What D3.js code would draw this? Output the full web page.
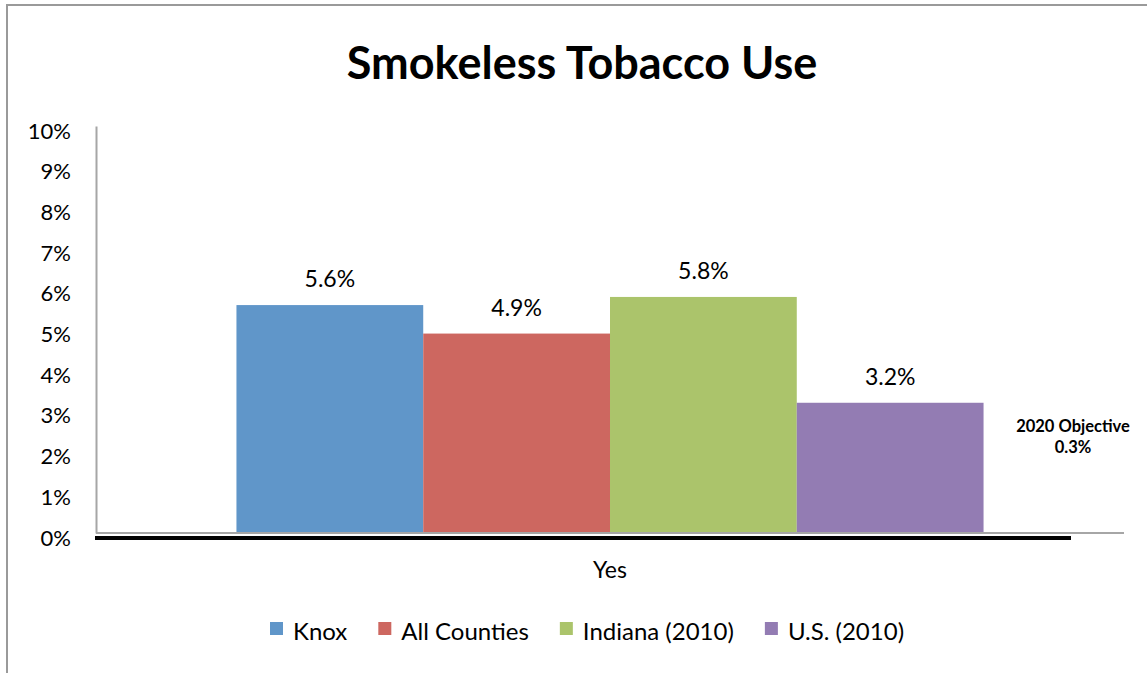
<!DOCTYPE html>
<html><head><meta charset="utf-8">
<script src="https://cdn.jsdelivr.net/npm/d3@7"></script>
<style>body{margin:0;background:#fff}svg{display:block;font-family:Lato, "Liberation Sans", sans-serif}</style>
</head><body>
<svg id="c" width="1147" height="673"></svg>
<script>
const groups = ["Yes"];
const categories = ["Knox", "All Counties", "Indiana (2010)", "U.S. (2010)"];
const values = [5.6, 4.9, 5.8, 3.2];
const valueLabels = ["5.6%", "4.9%", "5.8%", "3.2%"];
const colors = ["#6096c9", "#cd6760", "#abc46b", "#937cb3"];
const yTicks = [0, 1, 2, 3, 4, 5, 6, 7, 8, 9, 10];
const title = "Smokeless Tobacco Use";
const objectiveLines = ["2020 Objective", "0.3%"];

const svg = d3.select("#c");
const L = 96, R = 1124, T = 126, B = 533;

// outer border
svg.append("path").attr("d", "M7,673 V5 H1147").attr("fill", "none").attr("stroke", "#9a9a9a").attr("stroke-width", 2);

const x0 = d3.scaleBand().domain(groups).range([L, R]).paddingInner(0).paddingOuter(0.188);
const x1 = d3.scaleBand().domain(categories).range([0, x0.bandwidth()]).padding(0);
const y = d3.scaleLinear().domain([0, 10]).range([B, T]);

// title
svg.append("text").attr("x", 582).attr("y", 79).attr("text-anchor", "middle")
  .attr("font-size", 45).attr("font-weight", "bold").attr("fill", "#000").text(title);

// y axis
const yAxis = d3.axisLeft(y).tickValues(yTicks).tickFormat(d => d + "%").tickSize(0).tickPadding(25);
const ga = svg.append("g").attr("transform", `translate(${L},0)`).call(yAxis);
ga.select(".domain").attr("stroke", "#a6a6a6").attr("stroke-width", 2);
ga.selectAll("text").attr("font-size", 22).attr("fill", "#000").attr("font-family", "Lato, 'Liberation Sans', sans-serif")
  .attr("dy", null).attr("transform", "translate(0,12)");

// bars
const g = svg.append("g");
categories.forEach((c, i) => {
  const gx = x0(groups[0]) + x1(c);
  g.append("rect").attr("x", gx).attr("y", y(values[i])).attr("width", x1.bandwidth())
    .attr("height", y(0) - y(values[i])).attr("fill", colors[i]);
  g.append("text").attr("x", gx + x1.bandwidth() / 2).attr("y", y(values[i]) - 18)
    .attr("text-anchor", "middle").attr("font-size", 23).attr("fill", "#000").text(valueLabels[i]);
});

// baseline (grey axis) and thick black line
svg.append("line").attr("x1", L).attr("x2", R).attr("y1", B).attr("y2", B).attr("stroke", "#a6a6a6").attr("stroke-width", 2);
svg.append("line").attr("x1", L - 1).attr("x2", 1071).attr("y1", B + 5).attr("y2", B + 5).attr("stroke", "#000").attr("stroke-width", 4);

// category label
svg.append("text").attr("x", x0(groups[0]) + x0.bandwidth() / 2).attr("y", 578).attr("text-anchor", "middle")
  .attr("font-size", 23).attr("fill", "#000").text(groups[0]);

// objective annotation
objectiveLines.forEach((t, i) => {
  svg.append("text").attr("x", 1073).attr("y", 432 + i * 21).attr("text-anchor", "middle")
    .attr("font-size", 16.5).attr("font-weight", "bold").attr("fill", "#000").text(t);
});

// legend
const lg = svg.append("g");
let lx = 270;
categories.forEach((c, i) => {
  lg.append("rect").attr("x", lx).attr("y", 622).attr("width", 13).attr("height", 13).attr("fill", colors[i]);
  const t = lg.append("text").attr("x", lx + 23).attr("y", 640).attr("font-size", 24).attr("fill", "#000").text(c);
  lx += 23 + t.node().getComputedTextLength() + 31;
});
</script>
</body></html>
